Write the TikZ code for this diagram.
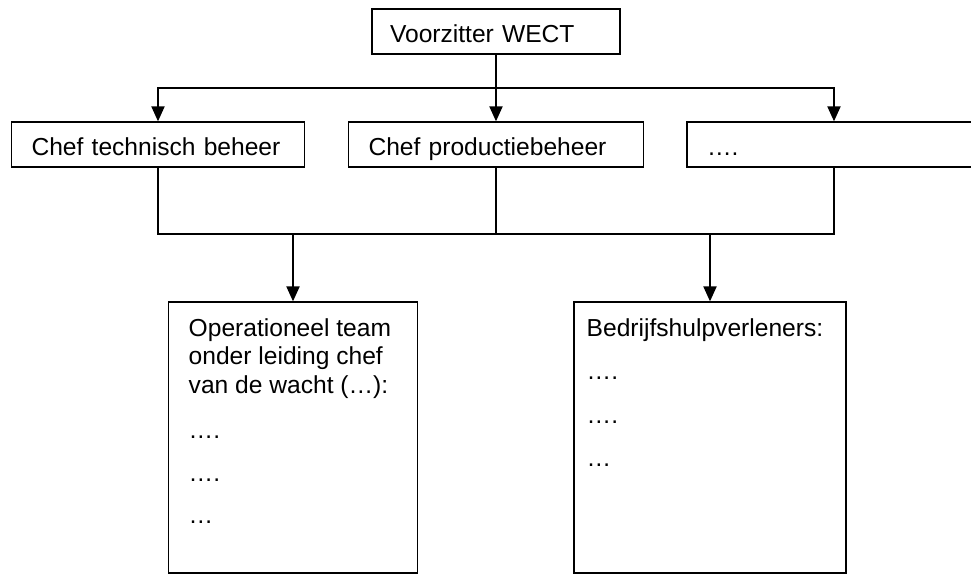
\documentclass[tikz,border=0pt]{standalone}
\usepackage{fontspec}
\setmainfont{Liberation Sans}
\usepackage{tikz}
\usetikzlibrary{arrows.meta}
\tikzset{box/.style={rectangle,draw,line width=0.8pt,minimum height=0.9cm,inner xsep=0.4cm,align=left,text height=12pt,text depth=0pt,font=\fontsize{14}{16.2}\selectfont}}
\tikzset{boxtext/.style={inner sep=0pt,anchor=north west,align=left,font=\fontsize{14}{16.2}\selectfont}}

\begin{document}
\begin{tikzpicture}[x=0.02cm,y=-0.02cm,>={Triangle[length=8.5pt,width=7.5pt]},line width=0.8pt]
    \useasboundingbox (0,0) rectangle (971,575);
    \clip (0,0) rectangle (971,575);

    \node[box,inner xsep=0.36cm,text width=4.24cm] (voorz) at (496,31.5) {Voorzitter WECT};
    \node[box,text width=5.06cm] (techn) at (158,144.5) {Chef technisch beheer};
    \node[box,text width=5.1cm] (prod) at (496,144.5) {Chef productiebeheer};
    \node[box,text width=5.08cm] (rest) at (834,144.5) {….};
    \node[box,minimum width=4.98cm,minimum height=5.42cm] (opteam) at (293,437.5) {};
    \node[box,minimum width=5.44cm,minimum height=5.42cm] (bhv) at (710,437.5) {};

    \node[boxtext] (opteamtext) at (188,318) {Operationeel team\\onder leiding chef\\van de wacht (…):\\[9.5pt]….\\[8pt]….\\[8pt]…};
    \node[boxtext] (bhvtext) at (586,318) {Bedrijfshulpverleners:\\[8.5pt]….\\[8.5pt]….\\[8.5pt]…};

    \coordinate (split) at (496,88);
    \coordinate (join) at (496,234);

    \draw [->] (voorz.south) -- (prod.north);
    \draw [->] (split) -| (techn.north);
    \draw [->] (split) -| (rest.north);

    \draw [] (techn.south) |- (join);
    \draw [] (rest.south) |- (join);
    \draw [] (prod.south) -- (join);
    \draw [->] (opteam.north |- join) -- (opteam.north);
    \draw [->] (bhv.north |- join) -- (bhv.north);
\end{tikzpicture}
\end{document}
